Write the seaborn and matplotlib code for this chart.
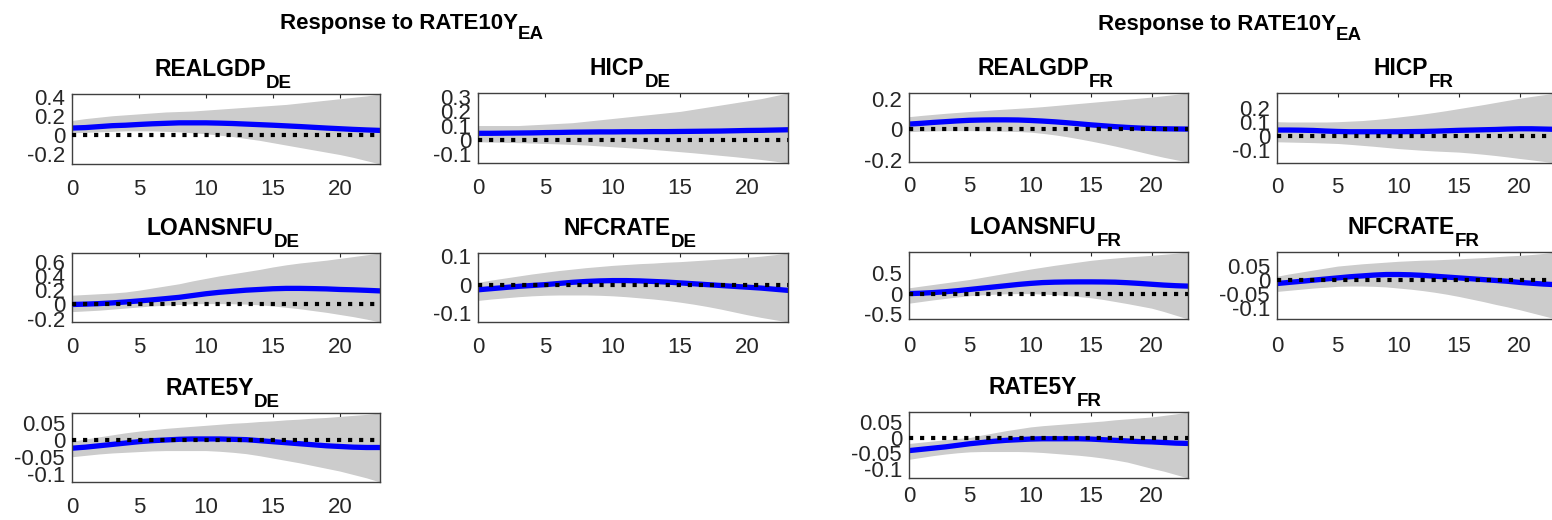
import numpy as np
import pandas as pd
import matplotlib
matplotlib.use("Agg")
import matplotlib.pyplot as plt
from matplotlib.ticker import FixedLocator, FuncFormatter
import seaborn as sns

# ---------------- data ----------------
horizon = list(range(24))
x_ticks = [0, 5, 10, 15, 20]

group_title = "Response to RATE10Y"
group_sub = "EA"

# Germany
realgdp_de_med = [0.07, 0.075, 0.085, 0.095, 0.10, 0.108, 0.115, 0.12, 0.125, 0.125, 0.125, 0.122,
                  0.118, 0.112, 0.106, 0.10, 0.093, 0.086, 0.078, 0.07, 0.063, 0.056, 0.05, 0.045]
realgdp_de_hi = [0.15, 0.17, 0.185, 0.20, 0.21, 0.22, 0.23, 0.24, 0.245, 0.25, 0.26, 0.27,
                 0.28, 0.29, 0.30, 0.31, 0.32, 0.335, 0.35, 0.365, 0.38, 0.395, 0.41, 0.43]
realgdp_de_lo = [0.02, 0.025, 0.03, 0.035, 0.04, 0.04, 0.04, 0.035, 0.03, 0.02, 0.01, -0.005,
                 -0.02, -0.04, -0.06, -0.085, -0.11, -0.135, -0.16, -0.185, -0.21, -0.24, -0.275, -0.31]

hicp_de_med = [0.045, 0.045, 0.046, 0.047, 0.048, 0.05, 0.051, 0.053, 0.054, 0.055, 0.055, 0.056,
               0.056, 0.057, 0.057, 0.058, 0.059, 0.06, 0.061, 0.063, 0.065, 0.066, 0.068, 0.07]
hicp_de_hi = [0.10, 0.10, 0.10, 0.10, 0.105, 0.11, 0.115, 0.12, 0.13, 0.14, 0.15, 0.16,
              0.17, 0.18, 0.19, 0.20, 0.215, 0.23, 0.245, 0.26, 0.275, 0.29, 0.31, 0.33]
hicp_de_lo = [-0.015, -0.017, -0.019, -0.021, -0.024, -0.027, -0.03, -0.034, -0.038, -0.044, -0.05, -0.056,
              -0.062, -0.069, -0.077, -0.085, -0.093, -0.102, -0.111, -0.12, -0.13, -0.14, -0.152, -0.165]

loans_de_med = [0.0, 0.005, 0.012, 0.022, 0.035, 0.05, 0.065, 0.082, 0.10, 0.125, 0.15, 0.17,
                0.185, 0.20, 0.21, 0.22, 0.225, 0.225, 0.222, 0.218, 0.21, 0.205, 0.198, 0.19]
loans_de_hi = [0.13, 0.14, 0.15, 0.16, 0.175, 0.20, 0.23, 0.26, 0.29, 0.33, 0.365, 0.40,
               0.43, 0.46, 0.49, 0.525, 0.555, 0.58, 0.60, 0.62, 0.645, 0.67, 0.695, 0.72]
loans_de_lo = [-0.10, -0.09, -0.08, -0.065, -0.05, -0.035, -0.02, -0.01, 0.0, 0.01, 0.012, 0.012,
               0.01, 0.005, -0.005, -0.02, -0.04, -0.06, -0.085, -0.11, -0.14, -0.17, -0.205, -0.245]

nfcrate_de_med = [-0.018, -0.014, -0.01, -0.006, -0.003, 0.0, 0.004, 0.008, 0.011, 0.013, 0.014, 0.014,
                  0.013, 0.011, 0.009, 0.006, 0.003, 0.0, -0.003, -0.006, -0.009, -0.012, -0.016, -0.02]
nfcrate_de_hi = [0.008, 0.016, 0.023, 0.03, 0.037, 0.043, 0.049, 0.054, 0.059, 0.063, 0.067, 0.07,
                 0.073, 0.075, 0.078, 0.08, 0.083, 0.086, 0.089, 0.092, 0.095, 0.099, 0.104, 0.11]
nfcrate_de_lo = [-0.055, -0.05, -0.046, -0.042, -0.039, -0.037, -0.036, -0.036, -0.036, -0.037, -0.039, -0.042,
                 -0.046, -0.05, -0.055, -0.061, -0.068, -0.076, -0.085, -0.095, -0.105, -0.114, -0.122, -0.13]

rate5y_de_med = [-0.023, -0.02, -0.016, -0.012, -0.008, -0.004, -0.001, 0.001, 0.003, 0.004, 0.004, 0.004,
                 0.003, 0.002, -0.001, -0.004, -0.007, -0.01, -0.013, -0.016, -0.018, -0.02, -0.021, -0.021]
rate5y_de_hi = [-0.003, 0.004, 0.01, 0.016, 0.022, 0.027, 0.031, 0.035, 0.038, 0.041, 0.044, 0.047,
                0.05, 0.052, 0.055, 0.057, 0.06, 0.062, 0.065, 0.067, 0.07, 0.073, 0.076, 0.08]
rate5y_de_lo = [-0.048, -0.044, -0.04, -0.037, -0.035, -0.033, -0.031, -0.03, -0.03, -0.03, -0.03, -0.032,
                -0.035, -0.039, -0.045, -0.052, -0.059, -0.066, -0.074, -0.082, -0.09, -0.10, -0.11, -0.122]

# France
realgdp_fr_med = [0.035, 0.04, 0.046, 0.051, 0.056, 0.06, 0.062, 0.063, 0.063, 0.062, 0.059, 0.055,
                  0.05, 0.044, 0.037, 0.03, 0.024, 0.018, 0.013, 0.009, 0.006, 0.004, 0.003, 0.002]
realgdp_fr_hi = [0.084, 0.092, 0.099, 0.106, 0.112, 0.118, 0.123, 0.129, 0.134, 0.139, 0.144, 0.15,
                 0.157, 0.164, 0.171, 0.178, 0.185, 0.192, 0.199, 0.206, 0.213, 0.222, 0.231, 0.24]
realgdp_fr_lo = [-0.015, -0.012, -0.01, -0.008, -0.008, -0.008, -0.009, -0.01, -0.012, -0.014, -0.018, -0.026,
                 -0.036, -0.048, -0.062, -0.077, -0.093, -0.11, -0.128, -0.147, -0.166, -0.184, -0.20, -0.215]

hicp_fr_med = [0.043, 0.043, 0.042, 0.04, 0.036, 0.033, 0.031, 0.031, 0.031, 0.031, 0.031, 0.032,
               0.033, 0.035, 0.038, 0.041, 0.043, 0.045, 0.047, 0.05, 0.052, 0.052, 0.05, 0.048]
hicp_fr_hi = [0.102, 0.10, 0.10, 0.10, 0.10, 0.102, 0.106, 0.11, 0.117, 0.125, 0.135, 0.145,
              0.156, 0.168, 0.181, 0.195, 0.209, 0.223, 0.238, 0.253, 0.268, 0.281, 0.293, 0.305]
hicp_fr_lo = [-0.04, -0.042, -0.044, -0.046, -0.049, -0.052, -0.058, -0.065, -0.072, -0.08, -0.088, -0.094,
              -0.10, -0.105, -0.109, -0.113, -0.12, -0.128, -0.137, -0.147, -0.158, -0.168, -0.179, -0.19]

loans_fr_med = [0.0, 0.01, 0.025, 0.045, 0.07, 0.10, 0.13, 0.16, 0.19, 0.22, 0.245, 0.265,
                0.275, 0.28, 0.282, 0.282, 0.28, 0.275, 0.262, 0.245, 0.225, 0.205, 0.19, 0.18]
loans_fr_hi = [0.14, 0.18, 0.22, 0.26, 0.30, 0.34, 0.39, 0.44, 0.49, 0.54, 0.59, 0.635,
               0.68, 0.72, 0.76, 0.80, 0.83, 0.855, 0.88, 0.90, 0.92, 0.945, 0.97, 1.0]
loans_fr_lo = [-0.23, -0.19, -0.15, -0.115, -0.08, -0.05, -0.03, -0.015, -0.005, 0.0, 0.0, -0.01,
               -0.025, -0.045, -0.07, -0.10, -0.14, -0.19, -0.24, -0.295, -0.35, -0.43, -0.52, -0.61]

nfcrate_fr_med = [-0.014, -0.01, -0.006, -0.002, 0.002, 0.006, 0.01, 0.013, 0.016, 0.018, 0.018, 0.017,
                  0.015, 0.012, 0.009, 0.006, 0.003, 0.0, -0.003, -0.006, -0.01, -0.013, -0.016, -0.018]
nfcrate_fr_hi = [0.012, 0.02, 0.027, 0.034, 0.041, 0.048, 0.052, 0.056, 0.059, 0.062, 0.065, 0.067,
                 0.069, 0.07, 0.072, 0.074, 0.076, 0.078, 0.081, 0.084, 0.086, 0.089, 0.093, 0.098]
nfcrate_fr_lo = [-0.042, -0.038, -0.034, -0.03, -0.027, -0.024, -0.023, -0.023, -0.024, -0.026, -0.03, -0.034,
                 -0.039, -0.045, -0.052, -0.06, -0.069, -0.078, -0.088, -0.097, -0.107, -0.118, -0.129, -0.14]

rate5y_fr_med = [-0.042, -0.038, -0.034, -0.03, -0.025, -0.02, -0.016, -0.012, -0.009, -0.007, -0.005, -0.004,
                 -0.004, -0.004, -0.004, -0.005, -0.007, -0.009, -0.011, -0.013, -0.014, -0.016, -0.018, -0.019]
rate5y_fr_hi = [-0.019, -0.015, -0.011, -0.007, -0.003, 0.0, 0.008, 0.015, 0.022, 0.028, 0.034, 0.038,
                0.041, 0.044, 0.047, 0.05, 0.053, 0.057, 0.06, 0.063, 0.066, 0.071, 0.076, 0.082]
rate5y_fr_lo = [-0.07, -0.064, -0.058, -0.053, -0.049, -0.046, -0.045, -0.045, -0.045, -0.045, -0.046, -0.048,
                -0.051, -0.054, -0.057, -0.061, -0.066, -0.072, -0.079, -0.089, -0.099, -0.108, -0.119, -0.13]

yticks_realgdp_de = [-0.2, 0, 0.2, 0.4]
yticks_hicp_de = [-0.1, 0, 0.1, 0.2, 0.3]
yticks_loans_de = [-0.2, 0, 0.2, 0.4, 0.6]
yticks_nfcrate_de = [-0.1, 0, 0.1]
yticks_rate5y_de = [-0.1, -0.05, 0, 0.05]
yticks_realgdp_fr = [-0.2, 0, 0.2]
yticks_hicp_fr = [-0.1, 0, 0.1, 0.2]
yticks_loans_fr = [-0.5, 0, 0.5]
yticks_nfcrate_fr = [-0.1, -0.05, 0, 0.05]
yticks_rate5y_fr = [-0.1, -0.05, 0, 0.05]

# ---------------- style ----------------
sns.set_theme(style="white")
plt.rcParams['font.family'] = ['Liberation Sans', 'DejaVu Sans']

W, H = 1552, 520
fig = plt.figure(figsize=(W / 100, H / 100), dpi=100)
fig.patch.set_facecolor("white")


def box(x0, x1, y0, y1):
    return [x0 / W, 1 - y1 / H, (x1 - x0) / W, (y1 - y0) / H]


# (name, sub, med, lo, hi, yticks, pixel box, x-label pad)
panels = [
    ("REALGDP", "DE", realgdp_de_med, realgdp_de_lo, realgdp_de_hi, yticks_realgdp_de, (72, 380, 94, 164), 11.0),
    ("HICP", "DE", hicp_de_med, hicp_de_lo, hicp_de_hi, yticks_hicp_de, (478, 788, 93, 163), 11.0),
    ("LOANSNFU", "DE", loans_de_med, loans_de_lo, loans_de_hi, yticks_loans_de, (72, 380, 253, 322), 11.0),
    ("NFCRATE", "DE", nfcrate_de_med, nfcrate_de_lo, nfcrate_de_hi, yticks_nfcrate_de, (478, 788, 253, 322), 11.0),
    ("RATE5Y", "DE", rate5y_de_med, rate5y_de_lo, rate5y_de_hi, yticks_rate5y_de, (72, 380, 413, 482), 11.0),
    ("REALGDP", "FR", realgdp_fr_med, realgdp_fr_lo, realgdp_fr_hi, yticks_realgdp_fr, (909, 1188, 93, 162), 10.0),
    ("HICP", "FR", hicp_fr_med, hicp_fr_lo, hicp_fr_hi, yticks_hicp_fr, (1277, 1556, 93, 163), 10.0),
    ("LOANSNFU", "FR", loans_fr_med, loans_fr_lo, loans_fr_hi, yticks_loans_fr, (909, 1188, 252, 319), 12.0),
    ("NFCRATE", "FR", nfcrate_fr_med, nfcrate_fr_lo, nfcrate_fr_hi, yticks_nfcrate_fr, (1277, 1556, 252, 319), 12.0),
    ("RATE5Y", "FR", rate5y_fr_med, rate5y_fr_lo, rate5y_fr_hi, yticks_rate5y_fr, (909, 1188, 412, 478), 6.0),
]

renderer = fig.canvas.get_renderer()


def sub_text(x, y_base_px, main, sub, size, subsize, drop_px, center=True):
    """main text + lowered subscript; x in figure fraction (center or left)."""
    yb = 1 - y_base_px / H
    t1 = fig.text(0, yb, main, fontsize=size, fontweight="bold", color="black",
                  ha="left", va="baseline")
    t2 = fig.text(0, yb - drop_px / H, sub, fontsize=subsize, fontweight="bold",
                  color="black", ha="left", va="baseline")
    w1 = t1.get_window_extent(renderer).width / W
    w2 = t2.get_window_extent(renderer).width / W
    x0 = x - (w1 + w2) / 2 if center else x
    t1.set_x(x0)
    t2.set_x(x0 + w1)


fmt = FuncFormatter(lambda v, p: f"{v:g}")

for name, sub, med, lo, hi, yt, (x0, x1, y0, y1), xpad in panels:
    ax = fig.add_axes(box(x0, x1, y0, y1))
    ax.set_facecolor("white")
    ax.fill_between(horizon, lo, hi, color="#cccccc", linewidth=0, zorder=1)
    df = pd.DataFrame({"h": horizon, "v": med})
    sns.lineplot(data=df, x="h", y="v", ax=ax, color="#0000ff", linewidth=3.8, zorder=2)
    ax.axhline(0, color="black", linestyle=":", linewidth=3.0, zorder=3)
    ax.set_xlim(horizon[0], horizon[-1])
    ax.set_ylim(min(lo), max(hi))
    ax.xaxis.set_major_locator(FixedLocator(x_ticks))
    ax.yaxis.set_major_locator(FixedLocator(yt))
    ax.xaxis.set_major_formatter(fmt)
    ax.yaxis.set_major_formatter(fmt)
    ax.set_xlabel("")
    ax.set_ylabel("")
    ax.tick_params(axis="both", direction="in", length=3, width=0.8, color="#262626",
                   top=True, right=True, labelsize=16, labelcolor="#262626")
    ax.tick_params(axis="x", pad=xpad)
    ax.tick_params(axis="y", pad=5)
    for s in ax.spines.values():
        s.set_color("#404040")
        s.set_linewidth(1.0)
        s.set_visible(True)
    sub_text((x0 + x1) / 2 / W - 3 / W, y0 - 18, name, sub, 16.5, 13.5, 12)

# group titles
sub_text(280 / W, 29, group_title, group_sub, 16, 13.5, 10, center=False)
sub_text(1098 / W, 30, group_title, group_sub, 16, 13.5, 10, center=False)

fig.savefig("out.png", dpi=100, facecolor="white")
